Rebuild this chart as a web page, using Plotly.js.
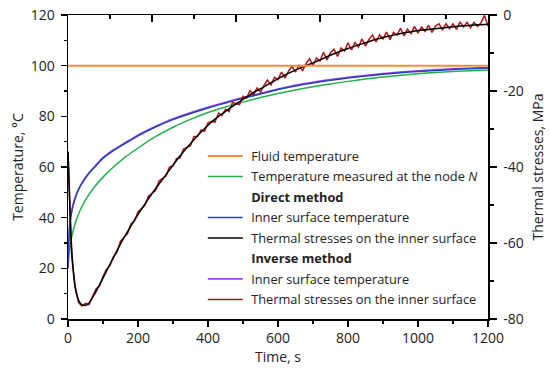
<!DOCTYPE html>
<html>
<head>
<meta charset="utf-8">
<script src="https://cdn.plot.ly/plotly-3.0.1.min.js"></script>
<style>html,body{margin:0;padding:0;background:#fff;}#chart{width:550px;height:369px;}</style>
</head>
<body>
<div id="chart"></div>
<script>
// ---- data ----
const tFluid = [0, 1200];
const fluidTemp = [100, 100];

const tGreen = [0, 2, 5, 10, 20, 35, 50, 75, 100, 130, 160, 200, 250, 300, 350, 400, 450, 500, 550, 600, 650, 700, 750, 800, 850, 900, 950, 1000, 1050, 1100, 1150, 1200];
const nodeTemp = [20, 24, 28, 32, 37.5, 43, 47, 52, 56, 60, 63.5, 67.5, 72, 75.7, 78.8, 81.5, 83.7, 85.6, 87.4, 89.0, 90.4, 91.7, 92.8, 93.8, 94.7, 95.5, 96.2, 96.8, 97.3, 97.7, 98.0, 98.3];

const tBlue = [0, 2, 5, 10, 20, 30, 40, 60, 80, 100, 130, 160, 200, 250, 300, 350, 400, 450, 500, 550, 600, 650, 700, 750, 800, 850, 900, 950, 1000, 1050, 1100, 1150, 1200];
const directSurfTemp = [20, 30, 37, 42, 47.5, 51, 53.5, 57.5, 60.5, 63.5, 66.5, 69, 72.3, 75.8, 78.7, 81.1, 83.3, 85.3, 87.1, 88.8, 90.6, 92.0, 93.2, 94.2, 95.1, 95.9, 96.6, 97.2, 97.7, 98.1, 98.5, 98.8, 99.1];

const tPurple = [0, 5, 10, 20, 40, 60, 80, 100, 130, 160, 200, 240, 280, 320, 360, 400, 440, 480, 520, 560, 600, 640, 680, 720, 760, 800, 840, 880, 920, 960, 1000, 1040, 1080, 1120, 1160, 1200];
const inverseSurfTemp = [20, 37.3, 42.2, 47.8, 53.8, 57.7, 60.8, 63.7, 66.8, 69.3, 72.6, 75.4, 77.9, 80.0, 81.9, 83.6, 85.2, 86.7, 88.1, 89.4, 90.8, 92.0, 93.0, 93.9, 94.7, 95.4, 96.0, 96.6, 97.1, 97.6, 98.0, 98.3, 98.6, 98.9, 99.1, 99.3];

const tBlack = [0, 4, 8, 12, 16, 20, 30, 40, 50, 60, 70, 80, 90, 100, 120, 140, 160, 180, 200, 220, 240, 260, 280, 300, 320, 340, 360, 380, 400, 420, 440, 460, 480, 500, 520, 540, 560, 580, 600, 620, 640, 660, 680, 700, 720, 740, 760, 780, 800, 820, 840, 860, 880, 900, 920, 940, 960, 980, 1000, 1020, 1040, 1060, 1080, 1100, 1120, 1140, 1160, 1180, 1200];
const directStress = [-36, -47, -57, -64, -68.3, -71.5, -75, -76.3, -76.4, -75.8, -74.3, -72.8, -71, -69.2, -65.6, -62, -58.6, -55.5, -52.5, -49.7, -47, -44.5, -42, -39.5, -37.1, -34.9, -32.8, -30.8, -29, -27.4, -26, -24.7, -23.4, -22.2, -21, -19.9, -18.9, -17.8, -16.8, -15.8, -14.9, -14.1, -13.3, -12.6, -11.8, -11.0, -10.2, -9.5, -8.8, -8.2, -7.6, -7.0, -6.4, -5.9, -5.5, -5.1, -4.7, -4.4, -4.1, -3.9, -3.7, -3.5, -3.3, -3.1, -2.9, -2.8, -2.65, -2.55, -2.45];

const tRed = [0, 10, 20, 30, 40, 50, 60, 70, 80, 90, 100, 110, 120, 130, 140, 150, 160, 170, 180, 190, 200, 210, 220, 230, 240, 250, 260, 270, 280, 290, 300, 310, 320, 330, 340, 350, 360, 370, 380, 390, 400, 410, 420, 430, 440, 450, 460, 470, 480, 490, 500, 510, 520, 530, 540, 550, 560, 570, 580, 590, 600, 610, 620, 630, 640, 650, 660, 670, 680, 690, 700, 710, 720, 730, 740, 750, 760, 770, 780, 790, 800, 810, 820, 830, 840, 850, 860, 870, 880, 890, 900, 910, 920, 930, 940, 950, 960, 970, 980, 990, 1000, 1010, 1020, 1030, 1040, 1050, 1060, 1070, 1080, 1090, 1100, 1110, 1120, 1130, 1140, 1150, 1160, 1170, 1180, 1190, 1200];
const inverseStress = [-36, -62.6, -71.2, -75.7, -76.6, -75.9, -76.2, -74.0, -72.1, -71.3, -68.8, -66.9, -65.9, -63.6, -62.4, -59.5, -58.5, -57.5, -55.0, -54.2, -51.8, -50.9, -50.1, -47.7, -46.9, -46.2, -43.7, -43.1, -42.4, -40.0, -39.7, -37.8, -37.6, -35.3, -34.8, -34.4, -32.0, -32.0, -30.3, -30.6, -28.4, -28.0, -28.2, -25.8, -26.4, -24.8, -25.4, -23.0, -23.3, -23.6, -21.4, -21.9, -19.9, -21.0, -19.2, -20.3, -18.5, -17.1, -18.4, -16.4, -17.0, -15.0, -16.6, -14.8, -13.5, -15.0, -13.1, -14.7, -12.8, -11.5, -13.3, -11.3, -12.1, -9.8, -11.8, -9.9, -9.0, -10.9, -8.7, -9.5, -7.3, -9.2, -7.2, -8.4, -6.3, -8.2, -6.4, -5.3, -7.1, -5.2, -6.3, -4.5, -6.5, -4.6, -5.3, -3.5, -5.5, -3.7, -4.9, -3.0, -4.8, -3.2, -4.3, -2.7, -4.6, -2.9, -2.3, -4.0, -2.3, -3.6, -2.3, -3.8, -1.8, -3.15, -1.9, -3.4, -1.95, -3.0, -2.05, -0.1, -2.95];

const xTickVals = [0, 200, 400, 600, 800, 1000, 1200];
const xTickText = ['0', '200', '400', '600', '800', '1000', '1200'];
const yTickVals = [0, 20, 40, 60, 80, 100, 120];
const yTickText = ['0', '20', '40', '60', '80', '100', '120'];
const y2TickVals = [-80, -60, -40, -20, 0];
const y2TickText = ['-80', '-60', '-40', '-20', '0'];

const names = {
  fluid: '\u00a0Fluid temperature',
  node: '\u00a0Temperature measured at the node <i>N</i>',
  direct: '\u00a0<b>Direct method</b>',
  inverse: '\u00a0<b>Inverse method</b>',
  surf: '\u00a0Inner surface temperature',
  stress: '\u00a0Thermal stresses on the inner surface'
};

const FONT = 'Open Sans, Noto Sans, sans-serif';
const lw = 1.5;

const traces = [
  {x: tFluid, y: fluidTemp, name: names.fluid, xaxis: 'x2', yaxis: 'y', mode: 'lines',
   line: {color: '#ff8a3a', width: 2}, legendrank: 1, legendgroup: 'g1'},
  {x: tGreen, y: nodeTemp, name: names.node, mode: 'lines', line: {color: '#22b04b', width: lw, shape: 'spline', smoothing: 0.6},
   legendrank: 2, legendgroup: 'g2'},
  {x: tPurple, y: inverseSurfTemp, name: names.surf, mode: 'lines', line: {color: '#a53cf0', width: 1.6, shape: 'spline', smoothing: 0.6},
   legendrank: 7, legendgroup: 'g7'},
  {x: tBlue, y: directSurfTemp, name: names.surf, mode: 'lines', line: {color: '#2445b5', width: lw, shape: 'spline', smoothing: 0.6},
   legendrank: 4, legendgroup: 'g4'},
  {x: tRed, y: inverseStress, name: names.stress, yaxis: 'y2', mode: 'lines', line: {color: '#b01414', width: lw},
   legendrank: 8, legendgroup: 'g8'},
  {x: tBlack, y: directStress, name: names.stress, yaxis: 'y2', mode: 'lines', line: {color: '#000000', width: lw, shape: 'spline', smoothing: 0.5},
   legendrank: 5, legendgroup: 'g5'},
  {x: [null], y: [null], name: names.direct, mode: 'lines', line: {color: 'rgba(0,0,0,0)', width: lw},
   legendrank: 3, legendgroup: 'g3'},
  {x: [null], y: [null], name: names.inverse, mode: 'lines', line: {color: 'rgba(0,0,0,0)', width: lw},
   legendrank: 6, legendgroup: 'g6'}
];

const axisCommon = {
  showline: true, linecolor: '#000', linewidth: 1.5, showgrid: false, zeroline: false,
  tickcolor: '#000', tickwidth: 1.3, tickfont: {family: FONT, size: 14, color: '#222'},
  fixedrange: true
};

const layout = {
  width: 550, height: 369,
  margin: {l: 68, r: 62, t: 15, b: 50, pad: 0},
  paper_bgcolor: '#fff', plot_bgcolor: '#fff',
  font: {family: FONT, color: '#222'},
  showlegend: true,
  legend: {
    x: 0.321, y: 0.585, xanchor: 'left', yanchor: 'top',
    bgcolor: 'rgba(0,0,0,0)', borderwidth: 0,
    font: {family: FONT, size: 12.8, color: '#222'},
    traceorder: 'grouped', tracegroupgap: 0.85, itemwidth: 35
  },
  xaxis: Object.assign({}, axisCommon, {
    range: [0, 1200], tickmode: 'array', tickvals: xTickVals, ticktext: xTickText,
    ticks: 'outside', ticklen: 6,
    minor: {dtick: 100, tick0: 0, ticks: 'outside', ticklen: 3, tickcolor: '#000', tickwidth: 1.3},
    title: {text: 'Time, s', font: {family: FONT, size: 14, color: '#222'}, standoff: 4}
  }),
  xaxis2: Object.assign({}, axisCommon, {
    range: [0, 1200], overlaying: 'x', side: 'top', anchor: 'y',
    tickmode: 'linear', tick0: 0, dtick: 240, ticks: 'inside', ticklen: 7, showticklabels: false,
    minor: {dtick: 120, tick0: 0, ticks: 'inside', ticklen: 4, tickcolor: '#000', tickwidth: 1.3}
  }),
  yaxis: Object.assign({}, axisCommon, {
    range: [0, 120], tickmode: 'array', tickvals: yTickVals, ticktext: yTickText,
    ticks: 'outside', ticklen: 6, ticklabelstandoff: 3,
    minor: {dtick: 10, tick0: 0, ticks: 'outside', ticklen: 3, tickcolor: '#000', tickwidth: 1.3},
    title: {text: 'Temperature, °C', font: {family: FONT, size: 14, color: '#222'}, standoff: 4}
  }),
  yaxis2: Object.assign({}, axisCommon, {
    range: [-80, 0], overlaying: 'y', side: 'right', anchor: 'x',
    tickmode: 'array', tickvals: y2TickVals, ticktext: y2TickText,
    ticks: 'outside', ticklen: 7, ticklabelstandoff: 4,
    minor: {dtick: 10, tick0: 0, ticks: 'outside', ticklen: 4, tickcolor: '#000', tickwidth: 1.3},
    title: {text: 'Thermal stresses, MPa', font: {family: FONT, size: 14, color: '#222'}, standoff: 10}
  })
};

Plotly.newPlot('chart', traces, layout, {displayModeBar: false, staticPlot: true});
</script>
</body>
</html>
